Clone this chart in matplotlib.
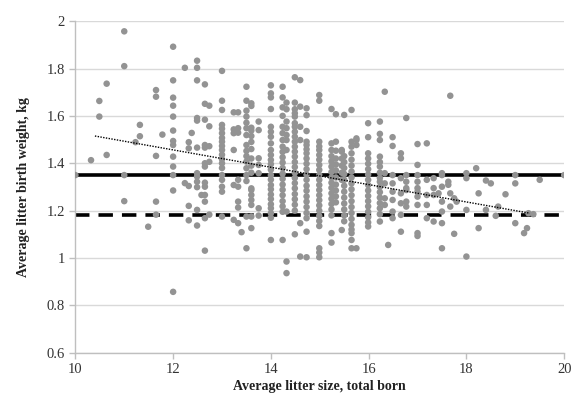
import matplotlib
matplotlib.use("Agg")
import matplotlib.pyplot as plt

# average litter size (column positions) and the birth weights read at each one
litter_size = [10.0, 10.32, 10.49, 10.64, 11.0, 11.23, 11.32, 11.49, 11.65, 11.78,
               12.0, 12.24, 12.32, 12.38, 12.49, 12.58, 12.65, 12.74,
               13.0, 13.24, 13.33, 13.4, 13.5, 13.6, 13.75,
               14.0, 14.24, 14.32, 14.49, 14.6, 14.73, 14.99,
               15.24, 15.33, 15.45, 15.5, 15.65, 15.75, 15.99,
               16.23, 16.33, 16.4, 16.49, 16.66, 16.77,
               17.0, 17.19, 17.33, 17.43, 17.5, 17.63, 17.67, 17.75, 17.8,
               18.0, 18.2, 18.25, 18.4, 18.5, 18.6, 18.65, 18.8,
               19.0, 19.18, 19.24, 19.27, 19.37, 19.5, 20.0]

birth_weight = [
    [1.35],
    [1.413],
    [1.663, 1.597],
    [1.736, 1.435],
    [1.957, 1.81, 1.35, 1.24],
    [1.489],
    [1.562, 1.514],
    [1.132],
    [1.709, 1.681, 1.431, 1.238, 1.183],
    [1.521],
    [1.892, 1.75, 1.677, 1.643, 1.597, 1.538, 1.494, 1.477, 1.428, 1.386, 1.35, 1.285, 0.857],
    [1.803, 1.316],
    [1.489, 1.463, 1.304, 1.22, 1.159],
    [1.528],
    [1.833, 1.803, 1.75, 1.591, 1.58, 1.466, 1.358, 1.344, 1.322, 1.299, 1.203, 1.137],
    [1.266],
    [1.733, 1.651, 1.584, 1.477, 1.466, 1.40, 1.386, 1.318, 1.301, 1.266, 1.238, 1.168, 1.031],
    [1.643, 1.556, 1.472, 1.406, 1.183],
    [1.79, 1.664, 1.625, 1.562, 1.546, 1.527, 1.507, 1.491, 1.473, 1.456, 1.436, 1.417,
     1.40, 1.38, 1.35, 1.33, 1.301, 1.28, 1.175],
    [1.615, 1.543, 1.527, 1.456, 1.308, 1.161],
    [1.615, 1.548, 1.529, 1.33, 1.301, 1.238, 1.213, 1.147],
    [1.109],
    [1.723, 1.664, 1.622, 1.597, 1.571, 1.548, 1.519, 1.477, 1.452, 1.43, 1.407, 1.379,
     1.35, 1.325, 1.175, 1.041],
    [1.653, 1.642, 1.55, 1.538, 1.515, 1.49, 1.46, 1.42, 1.39, 1.36, 1.294, 1.287, 1.266,
     1.245, 1.224, 1.175, 1.126],
    [1.576, 1.54, 1.421, 1.393, 1.358, 1.21, 1.179],
    [1.729, 1.695, 1.678, 1.629, 1.554, 1.533, 1.512, 1.484, 1.456, 1.435, 1.414, 1.396,
     1.373, 1.35, 1.331, 1.308, 1.29, 1.268, 1.249, 1.227, 1.21, 1.189, 1.17, 1.076],
    [1.723, 1.678, 1.636, 1.60, 1.554, 1.527, 1.498, 1.47, 1.448, 1.425, 1.403, 1.38,
     1.356, 1.334, 1.31, 1.288, 1.265, 1.24, 1.218, 1.195, 1.076],
    [1.656, 1.628, 1.576, 1.548, 1.519, 1.498, 1.456, 1.196, 0.985, 0.936],
    [1.763, 1.656, 1.628, 1.611, 1.597, 1.569, 1.554, 1.533, 1.512, 1.491, 1.47, 1.449,
     1.428, 1.405, 1.384, 1.36, 1.338, 1.316, 1.294, 1.27, 1.248, 1.225, 1.2, 1.10],
    [1.751, 1.639, 1.554, 1.498, 1.147, 1.006],
    [1.632, 1.603, 1.536, 1.491, 1.477, 1.459, 1.442, 1.42, 1.398, 1.375, 1.352, 1.33,
     1.305, 1.284, 1.26, 1.238, 1.215, 1.19, 1.168, 1.111, 1.003],
    [1.688, 1.664, 1.491, 1.471, 1.456, 1.435, 1.415, 1.393, 1.372, 1.35, 1.33, 1.308,
     1.287, 1.265, 1.244, 1.222, 1.2, 1.178, 1.156, 1.135, 1.041, 1.023, 1.003],
    [1.629, 1.484, 1.456, 1.43, 1.408, 1.386, 1.363, 1.34, 1.318, 1.296, 1.273, 1.25,
     1.228, 1.205, 1.18, 1.105, 1.065],
    [1.607, 1.491, 1.453, 1.42, 1.395, 1.37, 1.34, 1.31, 1.285, 1.26, 1.235],
    [1.456, 1.449, 1.42, 1.39, 1.36, 1.33, 1.118],
    [1.604, 1.43, 1.405, 1.38, 1.355, 1.33, 1.305, 1.28, 1.255, 1.23, 1.205, 1.18, 1.155],
    [1.625, 1.491, 1.47, 1.442, 1.415, 1.39, 1.365, 1.34, 1.315, 1.29, 1.265, 1.24,
     1.215, 1.19, 1.165, 1.14, 1.12, 1.105, 1.076, 1.041],
    [1.505, 1.498, 1.477, 1.041],
    [1.569, 1.51, 1.442, 1.42, 1.398, 1.375, 1.352, 1.33, 1.308, 1.285, 1.262, 1.24,
     1.218, 1.195, 1.172, 1.15, 1.133],
    [1.576, 1.524, 1.498, 1.428, 1.405, 1.386, 1.36, 1.338, 1.322, 1.3, 1.278, 1.255,
     1.232, 1.21, 1.185, 1.154],
    [1.702, 1.358, 1.315, 1.252, 1.224],
    [1.055],
    [1.51, 1.473, 1.35, 1.315, 1.28, 1.245, 1.196, 1.168],
    [1.442, 1.421, 1.337, 1.273, 1.231, 1.182, 1.111],
    [1.591, 1.35, 1.322, 1.295, 1.287, 1.238, 1.217],
    [1.481, 1.393, 1.35, 1.322, 1.295, 1.28, 1.259, 1.224, 1.105, 1.093],
    [1.484, 1.33, 1.266, 1.224, 1.168],
    [1.337, 1.295, 1.266, 1.154],
    [1.273],
    [1.358, 1.35, 1.301, 1.238, 1.196, 1.147, 1.041],
    [1.322, 1.309],
    [1.685, 1.273, 1.217],
    [1.252, 1.102],
    [1.238],
    [1.358, 1.337, 1.203, 1.006],
    [1.379],
    [1.273, 1.126],
    [1.327, 1.203],
    [1.315],
    [1.178],
    [1.217],
    [1.269],
    [1.35, 1.315, 1.147],
    [1.105],
    [1.126],
    [1.189],
    [1.185],
    [1.33],
    [1.35],
]

mean_weight = 1.35
low_weight = 1.18
trend_x = [10.4, 19.3]
trend_y = [1.515, 1.189]

xs = []
ys = []
for x, col in zip(litter_size, birth_weight):
    for y in col:
        xs.append(x)
        ys.append(y)

plt.rcParams['font.family'] = ['Liberation Serif', 'DejaVu Serif']

fig = plt.figure(figsize=(5.71, 3.99), dpi=100)
ax = fig.add_axes([0.132, 0.116, 0.856, 0.831])

ax.set_xlim(10, 20)
ax.set_ylim(0.6, 2.0)
ax.set_yticks([0.6, 0.8, 1.0, 1.2, 1.4, 1.6, 1.8, 2.0])
ax.set_yticklabels(['0.6', '0.8', '1', '1.2', '1.4', '1.6', '1.8', '2'])
ax.set_xticks([10, 12, 14, 16, 18, 20])

ax.grid(axis='y', color='#d9d9d9', linewidth=1.0)
ax.set_axisbelow(True)

ax.scatter(xs, ys, s=22, color='#939393', edgecolors='none', zorder=3)

ax.plot([10, 20], [mean_weight, mean_weight], color='black', linewidth=2.6, zorder=2)
ax.plot([10, 20], [low_weight, low_weight], color='black', linewidth=2.6,
        dashes=(4, 2.5), zorder=2)
ax.plot(trend_x, trend_y, color='black', linewidth=1.0, linestyle=(0, (1, 1)), zorder=4)

for s in ['top', 'right']:
    ax.spines[s].set_visible(False)
for s in ['left', 'bottom']:
    ax.spines[s].set_color('#bfbfbf')
    ax.spines[s].set_linewidth(1.0)

ax.tick_params(axis='both', colors='#bfbfbf', length=4, width=1.0,
               labelcolor='#333333', labelsize=10.5)

ax.set_xlabel('Average litter size, total born', fontsize=10, fontweight='bold',
              color='#222222', labelpad=3)
ax.set_ylabel('Average litter birth weight, kg', fontsize=10, fontweight='bold',
              color='#222222', labelpad=12)

fig.savefig('out.png', dpi=100)
